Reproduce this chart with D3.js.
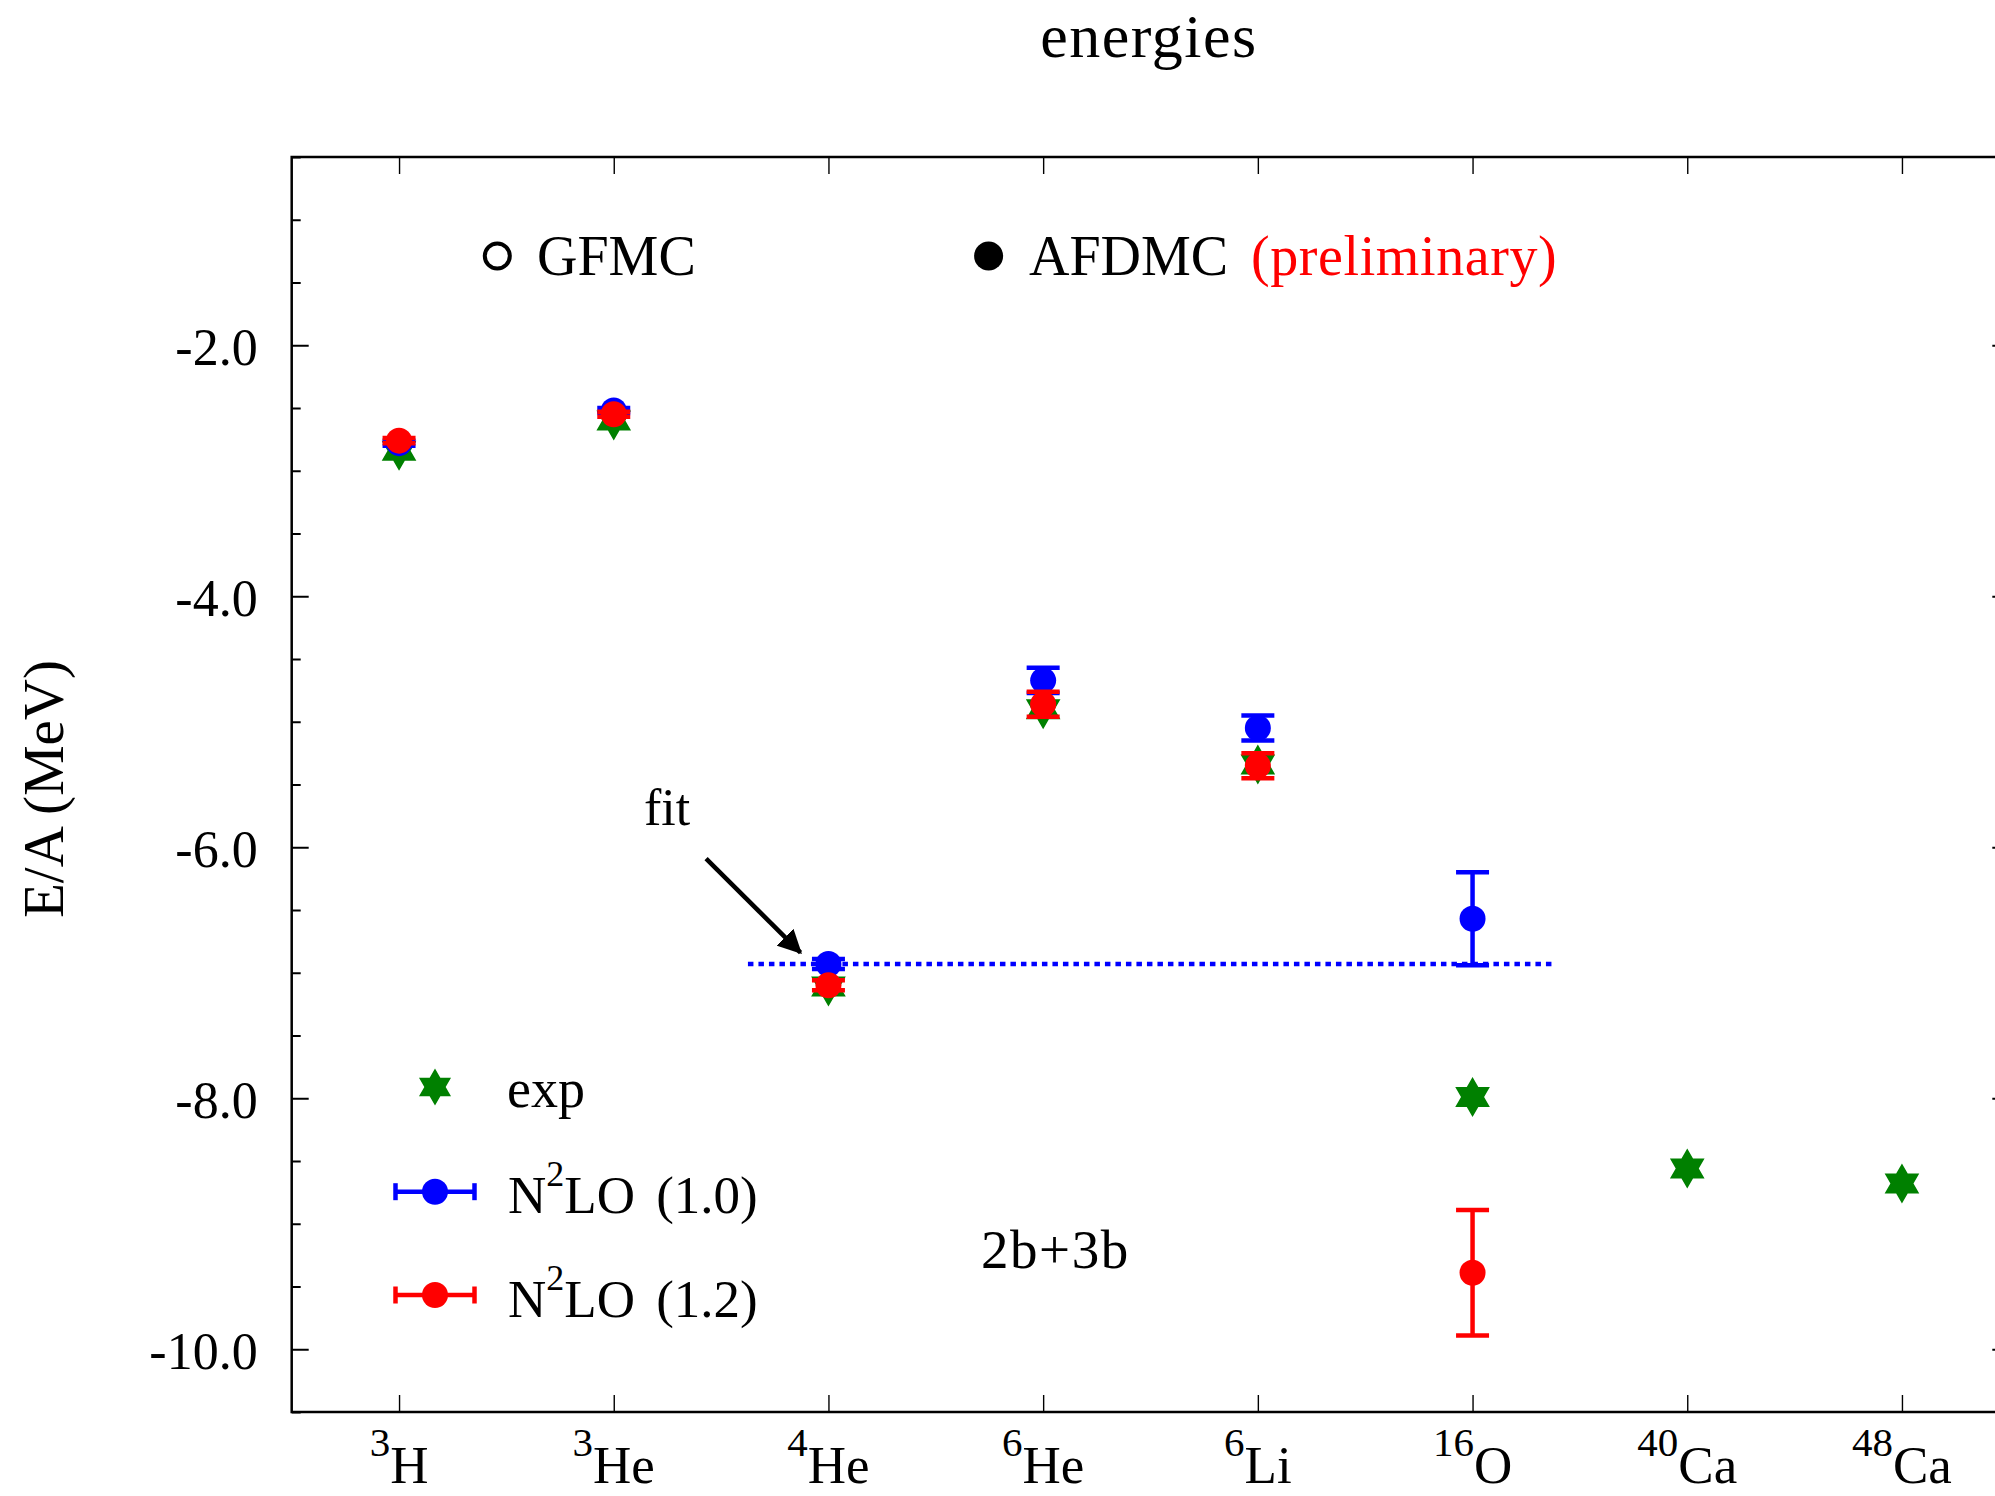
<!DOCTYPE html>
<html>
<head>
<meta charset="utf-8">
<script src="https://cdn.jsdelivr.net/npm/d3@7"></script>
<style>
  body { margin: 0; background: #fff; }
  text { font-family: "Liberation Serif", "Times New Roman", serif; fill: #000; }
</style>
</head>
<body>
<svg id="chart" width="1995" height="1496"></svg>
<script>
// nuclei on the x axis (mass number as superscript)
var massNumbers = ["3", "3", "4", "6", "6", "16", "40", "48"];
var elements = ["H", "He", "He", "He", "Li", "O", "Ca", "Ca"];

// E/A in MeV
var expValues = [-2.84, -2.60, -7.11, -4.90, -5.34, -7.99, -8.56, -8.68];
var n2lo10Values = [-2.78, -2.52, -6.93, -4.67, -5.05, -6.57];
var n2lo10Errors = [0.02, 0.02, 0.04, 0.10, 0.10, 0.37];
var n2lo12Values = [-2.76, -2.55, -7.10, -4.86, -5.35, -9.39];
var n2lo12Errors = [0.02, 0.02, 0.04, 0.10, 0.10, 0.50];

// 4He fit line
var fitValue = -6.93;
var fitRange = [2.625, 6.375];

var yMajorTicks = [-10, -8, -6, -4, -2];
var legendLabels = ["exp", "(1.0)", "(1.2)"];

var svg = d3.select("#chart");
var m = { l: 291.7, r: 2009.3, t: 157, b: 1412 };

var x = d3.scaleLinear().domain([0.5, 8.5]).range([m.l, m.r]);
var y = d3.scaleLinear().domain([-10.5, -0.5]).range([m.b, m.t]);

var yMinor = d3.range(-10.5, -0.49, 0.5).filter(function(v) {
  return yMajorTicks.indexOf(Math.round(v * 10) / 10) < 0;
});
var xIdx = d3.range(1, massNumbers.length + 1);

// hexagram marker
function star(R) {
  var r = R / Math.sqrt(3), pts = [];
  for (var k = 0; k < 12; k++) {
    var a = (-90 + k * 30) * Math.PI / 180;
    var rr = (k % 2 === 0) ? R : r;
    pts.push([rr * Math.cos(a), rr * Math.sin(a)]);
  }
  return "M" + pts.map(function(p) { return p[0].toFixed(2) + "," + p[1].toFixed(2); }).join("L") + "Z";
}

// ---- axes ----
function styleAxis(g, w) {
  g.select(".domain").remove();
  g.selectAll(".tick line").attr("stroke", "#000").attr("stroke-width", w);
}

svg.append("g").attr("transform", "translate(" + m.l + ",0)")
  .call(d3.axisLeft(y).tickValues(yMajorTicks).tickSize(-17).tickPadding(34)
    .tickFormat(function(d) { return d.toFixed(1); }))
  .call(function(g) {
    styleAxis(g, 2);
    g.selectAll("text").attr("font-size", 52).attr("dy", "0.37em")
      .attr("font-family", "Liberation Serif, serif").attr("fill", "#000");
  });
svg.append("g").attr("transform", "translate(" + m.l + ",0)")
  .call(d3.axisLeft(y).tickValues(yMinor).tickSize(-9).tickFormat(""))
  .call(function(g) { styleAxis(g, 2); });
svg.append("g").attr("transform", "translate(" + m.r + ",0)")
  .call(d3.axisRight(y).tickValues(yMajorTicks).tickSize(-17).tickFormat(""))
  .call(function(g) { styleAxis(g, 2); });
svg.append("g").attr("transform", "translate(" + m.r + ",0)")
  .call(d3.axisRight(y).tickValues(yMinor).tickSize(-9).tickFormat(""))
  .call(function(g) { styleAxis(g, 2); });

svg.append("g").attr("transform", "translate(0," + m.b + ")")
  .call(d3.axisBottom(x).tickValues(xIdx).tickSize(-17).tickFormat(""))
  .call(function(g) { styleAxis(g, 1.4); });
svg.append("g").attr("transform", "translate(0," + m.t + ")")
  .call(d3.axisTop(x).tickValues(xIdx).tickSize(-17).tickFormat(""))
  .call(function(g) { styleAxis(g, 1.4); });

// x tick labels with superscript mass numbers
var xl = svg.append("g").selectAll("text").data(xIdx).enter().append("text")
  .attr("x", function(d) { return x(d); })
  .attr("y", 1483)
  .attr("text-anchor", "middle");
xl.append("tspan").attr("font-size", 41).attr("dy", -27)
  .text(function(d) { return massNumbers[d - 1]; });
xl.append("tspan").attr("font-size", 53).attr("dy", 27)
  .text(function(d) { return elements[d - 1]; });

// frame
svg.append("rect").attr("x", m.l).attr("y", m.t)
  .attr("width", m.r - m.l).attr("height", m.b - m.t)
  .attr("fill", "none").attr("stroke", "#000").attr("stroke-width", 2.5);

// title and axis label
svg.append("text").attr("x", 1149).attr("y", 57).attr("text-anchor", "middle")
  .attr("font-size", 62).attr("letter-spacing", 1.5).text("energies");
svg.append("text").attr("transform", "translate(63,789) rotate(-90)")
  .attr("text-anchor", "middle").attr("font-size", 57).text("E/A (MeV)");

// ---- data ----
svg.append("g").selectAll("path").data(expValues).enter().append("path")
  .attr("d", star(20))
  .attr("fill", "#008000")
  .attr("transform", function(d, i) { return "translate(" + x(i + 1) + "," + y(d) + ")"; });

function errorSeries(vals, errs, color) {
  var g = svg.append("g").attr("stroke", color).attr("stroke-width", 4.5).attr("fill", color);
  var pt = g.selectAll("g").data(vals).enter().append("g");
  pt.append("line")
    .attr("x1", function(d, i) { return x(i + 1); })
    .attr("x2", function(d, i) { return x(i + 1); })
    .attr("y1", function(d, i) { return y(d - errs[i]); })
    .attr("y2", function(d, i) { return y(d + errs[i]); });
  [-1, 1].forEach(function(s) {
    pt.append("line")
      .attr("x1", function(d, i) { return x(i + 1) - 16.5; })
      .attr("x2", function(d, i) { return x(i + 1) + 16.5; })
      .attr("y1", function(d, i) { return y(d + s * errs[i]); })
      .attr("y2", function(d, i) { return y(d + s * errs[i]); });
  });
  pt.append("circle")
    .attr("cx", function(d, i) { return x(i + 1); })
    .attr("cy", function(d) { return y(d); })
    .attr("r", 13).attr("stroke", "none");
}
errorSeries(n2lo10Values, n2lo10Errors, "#0000ff");
errorSeries(n2lo12Values, n2lo12Errors, "#ff0000");

// fit line
svg.append("line")
  .attr("x1", x(fitRange[0])).attr("x2", x(fitRange[1]))
  .attr("y1", y(fitValue)).attr("y2", y(fitValue))
  .attr("stroke", "#0000ff").attr("stroke-width", 4.5).attr("stroke-dasharray", "5.5,5");

// "fit" arrow
svg.append("defs").append("marker")
  .attr("id", "head").attr("viewBox", "0 0 24 24").attr("refX", 22).attr("refY", 12)
  .attr("markerWidth", 24).attr("markerHeight", 24).attr("markerUnits", "userSpaceOnUse")
  .attr("orient", "auto")
  .append("path").attr("d", "M0,0L24,12L0,24Z").attr("fill", "#000");
svg.append("line")
  .attr("x1", x(2.43)).attr("y1", y(-6.09))
  .attr("x2", x(2.87)).attr("y2", y(-6.84))
  .attr("stroke", "#000").attr("stroke-width", 4.5).attr("marker-end", "url(#head)");
svg.append("text").attr("x", x(2.248)).attr("y", y(-5.823)).attr("text-anchor", "middle")
  .attr("font-size", 52).text("fit");
svg.append("text").attr("x", x(4.057)).attr("y", y(-9.353)).attr("text-anchor", "middle")
  .attr("font-size", 55).attr("letter-spacing", 1.5).text("2b+3b");

// ---- top key ----
svg.append("circle").attr("cx", 497.3).attr("cy", 256).attr("r", 12.5)
  .attr("fill", "#fff").attr("stroke", "#000").attr("stroke-width", 4);
svg.append("text").attr("x", 537).attr("y", 275).attr("font-size", 56).text("GFMC");
svg.append("circle").attr("cx", 988.6).attr("cy", 256).attr("r", 14.5).attr("fill", "#000");
svg.append("text").attr("x", 1029).attr("y", 275).attr("font-size", 56).text("AFDMC");
svg.append("text").attr("x", 1251).attr("y", 275).attr("font-size", 56)
  .attr("letter-spacing", 0.6).style("fill", "#ff0000").text("(preliminary)");

// ---- legend ----
var lg = svg.append("g");
lg.append("path").attr("d", star(18.5)).attr("fill", "#008000")
  .attr("transform", "translate(435,1087)");
lg.append("text").attr("x", 507).attr("y", 1107).attr("font-size", 54).text(legendLabels[0]);

[["#0000ff", 1191.7, legendLabels[1]], ["#ff0000", 1295, legendLabels[2]]].forEach(function(e) {
  var g = lg.append("g").attr("stroke", e[0]).attr("stroke-width", 4.5);
  g.append("line").attr("x1", 395.5).attr("x2", 474.5).attr("y1", e[1]).attr("y2", e[1]);
  g.append("line").attr("x1", 395.5).attr("x2", 395.5).attr("y1", e[1] - 8.5).attr("y2", e[1] + 8.5);
  g.append("line").attr("x1", 474.5).attr("x2", 474.5).attr("y1", e[1] - 8.5).attr("y2", e[1] + 8.5);
  g.append("circle").attr("cx", 435).attr("cy", e[1]).attr("r", 13).attr("fill", e[0]).attr("stroke", "none");
  var t = lg.append("text").attr("x", 508).attr("y", e[1] + 21.6).attr("font-size", 53)
    .attr("word-spacing", 8);
  t.append("tspan").text("N");
  t.append("tspan").attr("font-size", 36).attr("dy", -27).text("2");
  t.append("tspan").attr("dy", 27).text("LO " + e[2]);
});
</script>
</body>
</html>
